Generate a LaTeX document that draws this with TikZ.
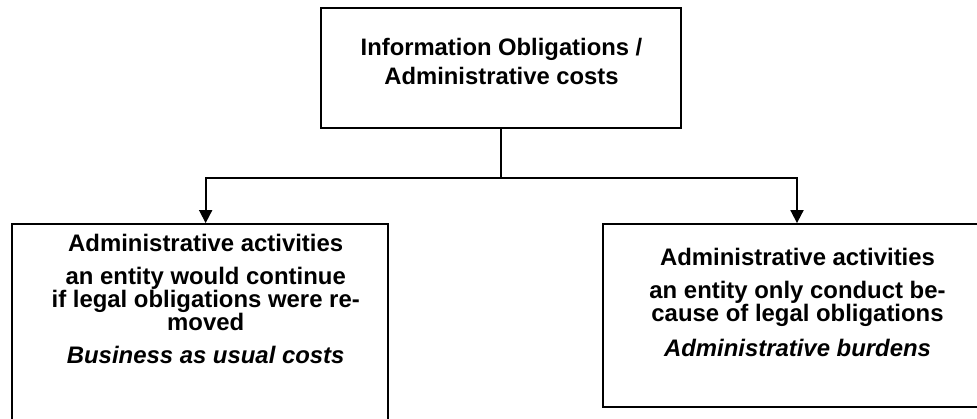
\documentclass[tikz,border=0pt]{standalone}
\usepackage{fontspec}
\setmainfont{Liberation Sans}
\usetikzlibrary{arrows.meta}
\begin{document}
\begin{tikzpicture}[x=1pt,y=-1pt,
  box/.style={draw, line width=1.8pt, inner sep=0pt},
  txt/.style={align=center, inner sep=0pt, font=\fontsize{23.9pt}{21.5pt}\selectfont\bfseries},
  conn/.style={line width=1.8pt},
  arr/.style={conn, -{Triangle[width=13pt,length=13pt]}}]
\useasboundingbox (0,0) rectangle (977,418);
\clip (0,0) rectangle (977,418);
% top box
\node[box, minimum width=360.3pt, minimum height=120pt] (top) at (500.85,68.3) {};
\node[txt, font=\fontsize{23.8pt}{29pt}\selectfont\bfseries] (toptext) at (501.5,61.3)
  {Information Obligations /\\Administrative costs};
% left box
\node[box, minimum width=375.7pt, minimum height=210pt] (left) at (200.15,329) {};
\node[txt] (lefttext) at (205.7,299)
  {Administrative activities\\[11.5pt]an entity would continue\\if legal obligations were re-\\moved\\[11.5pt]\textit{Business as usual costs}};
% right box
\node[box, minimum width=376pt, minimum height=183pt] (right) at (791,315.5) {};
\node[txt] (righttext) at (797.5,302.3)
  {Administrative activities\\[11.5pt]an entity only conduct be-\\cause of legal obligations\\[11.5pt]\textit{Administrative burdens}};
% connectors
\coordinate (j) at ([yshift=-48.4pt]top.south);
\draw[conn] (top.south) -- (j);
\draw[arr] (j) -| ([xshift=5.5pt]left.north);
\draw[arr] (j) -| ([xshift=6pt]right.north);
\end{tikzpicture}
\end{document}
